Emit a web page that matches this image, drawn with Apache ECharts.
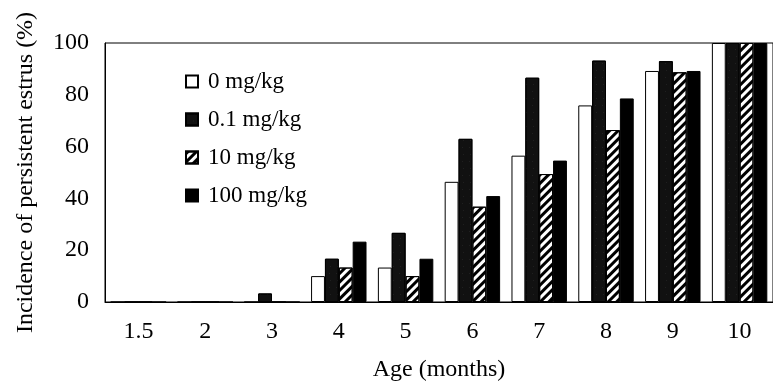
<!DOCTYPE html>
<html><head><meta charset="utf-8">
<script src="https://cdn.jsdelivr.net/npm/echarts@6/dist/echarts.min.js"></script>
<style>html,body{margin:0;padding:0;background:#fff}#c{width:773px;height:391px}</style>
</head><body><div id="c"></div>
<script>
const categories = ['1.5','2','3','4','5','6','7','8','9','10'];
const seriesNames = ['0 mg/kg','0.1 mg/kg','10 mg/kg','100 mg/kg'];
const dose0 = [0,0,0,10,13.3,46.4,56.5,75.9,89.2,100];
const dose01 = [0,0,3.3,16.7,26.7,63,86.6,93.2,93,100];
const dose10 = [0,0,0,13.3,10,36.8,49.4,66.4,88.7,100];
const dose100 = [0,0,0,23.3,16.7,40.9,54.6,78.6,89.2,100];
const yTicks = [0,20,40,60,80,100];

const F = 'Liberation Serif, Times New Roman, serif';
const chart = echarts.init(document.getElementById('c'), null, {renderer:'canvas'});
chart.setOption({
  animation:false,
  backgroundColor:'#fff',
  grid:{left:105,right:-7,top:43,bottom:89,show:true,borderColor:'#000',borderWidth:1,backgroundColor:'transparent'},
  legend:{
    orient:'vertical',left:180,top:65,itemGap:15,itemWidth:12,itemHeight:12,icon:'rect',
    textStyle:{fontFamily:F,fontSize:23,color:'#000',padding:[0,0,0,5]},
    data:seriesNames
  },
  xAxis:{
    type:'category',data:categories,
    axisLine:{lineStyle:{color:'#000',width:1}},axisTick:{show:false},
    axisLabel:{fontFamily:F,fontSize:24,color:'#000',margin:18},
    name:'Age (months)',nameLocation:'middle',nameGap:56,
    nameTextStyle:{fontFamily:F,fontSize:24,color:'#000'}
  },
  yAxis:{
    type:'value',min:0,max:100,interval:20,
    axisLine:{show:true,lineStyle:{color:'#000',width:1}},axisTick:{show:false},splitLine:{show:false},
    axisLabel:{fontFamily:F,fontSize:24,color:'#000',margin:16,
      formatter:v=>yTicks.includes(v)?String(v):''},
    name:'Incidence of persistent estrus (%)',nameLocation:'middle',nameGap:67,
    nameTextStyle:{fontFamily:F,fontSize:24,color:'#000'}
  },
  series:[
    {name:seriesNames[0],type:'bar',data:dose0,barGap:'0%',barCategoryGap:'17%',
      itemStyle:{color:'#fff',borderColor:'#000',borderWidth:1}},
    {name:seriesNames[1],type:'bar',data:dose01,
      itemStyle:{color:'#111',borderColor:'#000',borderWidth:1,
        decal:{symbol:'circle',symbolSize:0.5,color:'rgba(255,255,255,0.35)',dashArrayX:[[1,6],[0,1,1,5]],dashArrayY:[1,6]}}},
    {name:seriesNames[2],type:'bar',data:dose10,
      itemStyle:{color:'#fff',borderColor:'#000',borderWidth:1,
        decal:{symbol:'rect',symbolSize:1,color:'#000',dashArrayX:[1,0],dashArrayY:[3,3],rotation:-Math.PI/4}}},
    {name:seriesNames[3],type:'bar',data:dose100,
      itemStyle:{color:'#000',borderColor:'#000',borderWidth:1}}
  ]
});
</script></body></html>
